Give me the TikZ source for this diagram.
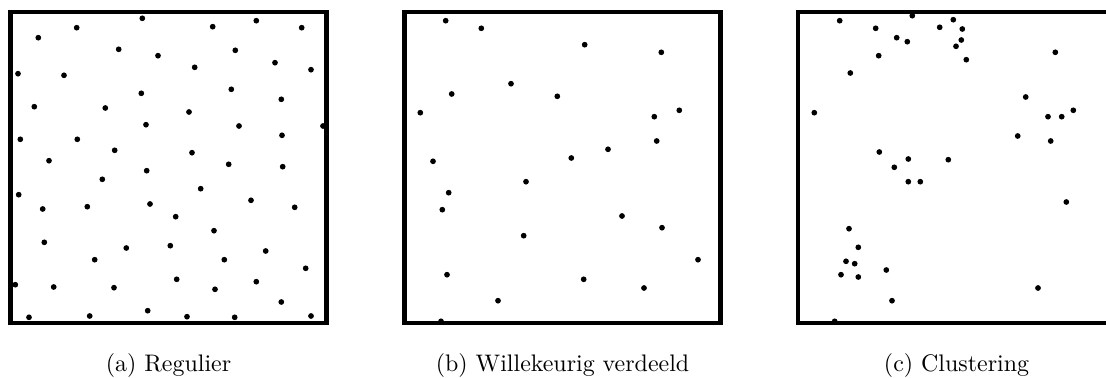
\documentclass[tikz,border=0pt]{standalone}
\begin{document}
\begin{tikzpicture}[x=0.418pt, y=-0.418pt,
  panel/.style={draw, line width=1.7pt, inner sep=0pt, minimum width=132.1pt, minimum height=130pt},
  dotfill/.style={fill=black},
  subcap/.style={anchor=base, inner sep=0pt}]
\useasboundingbox (0,0) rectangle (1106,378);
% the three panels
\node[panel] (pa) at (168.5,167.5) {};
\node[panel] (pb) at (562.5,167.5) {};
\node[panel] (pc) at (956,167.5) {};
% (a) regular pattern
\foreach \x/\y in {142.3/18.3, 76.7/27.7, 212.7/26.7, 256.3/20.7, 301.7/27.7, 38.3/37.7,
  118.7/49.3, 158/55.7, 235.3/50.3, 275/62.7, 18/73.7, 64/75.3, 194.7/67.3, 311/69.7,
  141.3/93.3, 231.3/89.3, 281.3/99.3, 34.3/106.7, 105.3/108, 189/112, 146/124.7,
  239/126, 323/126, 20.3/139.3, 77.3/139.3, 282/135.3, 114.7/150.3, 192/152.7,
  49/160.7, 228.7/164.3, 282.7/166.7, 146.7/170.7, 102.3/179.3, 200.7/188.7,
  18.7/194.7, 251/200.3, 42.7/209, 87.3/206.7, 150/204, 294.7/207.3, 175.7/216.7,
  214/230.7, 44.3/242.3, 126.3/248, 170.3/245.7, 265.7/251, 94.7/259.7, 224.3/259.7,
  305.7/268.3, 15.3/284.7, 53.7/287, 114/287.7, 176.7/279.3, 215/289.3, 256.3/281.7,
  281.3/302, 29/317.3, 89.7/316, 147.7/310.7, 187/316.7, 234.7/317.3, 311/316}
  \fill[dotfill] (\x,\y) circle[radius=1.2pt];
% (b) random pattern
\foreach \x/\y in {445.7/20.7, 481.3/28.3, 584.7/44.7, 661.3/52.3, 511/83.7, 451.7/94,
  557.3/96.3, 420.3/112.7, 654.3/116.7, 679.3/110.3, 656.7/141, 608/149.3, 571.3/158,
  433/161.3, 526/181.7, 448.7/192.7, 442.3/209.7, 622/216, 662/227.7, 523.7/235.7,
  698/259.7, 447/274.7, 583.7/279.3, 644/288, 498/300.7, 441/321.3}
  \fill[dotfill] (\x,\y) circle[radius=1.2pt];
% (c) clustered pattern
\foreach \x/\y in {839.7/20.7, 912.3/15.7, 953.3/19.7, 875.7/28.3, 939.7/27.3, 962.3/29,
  896.7/37.7, 907.3/41.7, 961.3/40, 956/46.3, 878.7/55.7, 966.3/59.7, 1055.3/52.3,
  850.3/73, 814.3/112.7, 1025.7/97, 1048/116.7, 1061.7/116.7, 1073.3/110.3, 1017.7/136,
  1050.7/141, 879.3/152, 908.3/159, 948.3/159.7, 894.3/167.3, 908.3/181.7, 920.3/181.7,
  1066.3/202, 849/228.7, 858.3/247.3, 846/261.3, 854.7/263.7, 841/274.7, 858.3/277,
  886.3/270, 1038/288, 892/300.7, 834.7/321.3}
  \fill[dotfill] (\x,\y) circle[radius=1.2pt];
% captions
\node[subcap] (capa) at (168.5,372) {(a) Regulier};
\node[subcap] (capb) at (562.5,372) {(b) Willekeurig verdeeld};
\node[subcap] (capc) at (956.5,372) {(c) Clustering};
\end{tikzpicture}
\end{document}
